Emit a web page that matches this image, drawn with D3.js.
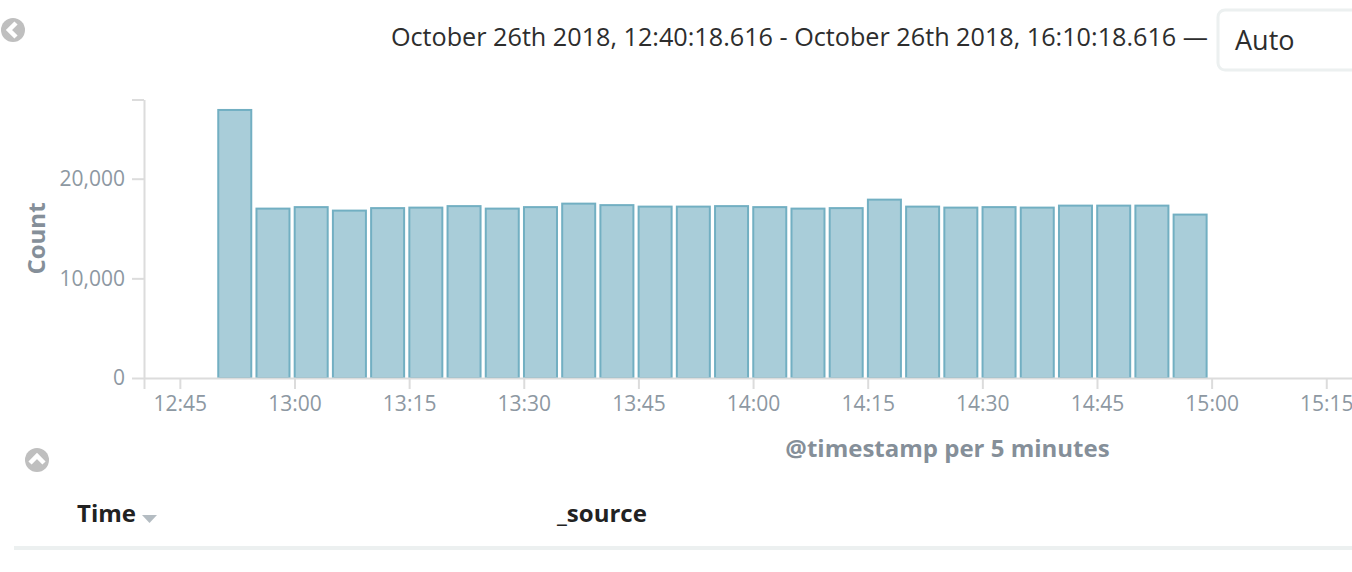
<!DOCTYPE html>
<html><head><meta charset="utf-8">
<script src="https://cdn.jsdelivr.net/npm/d3@7"></script>
<style>
html,body{margin:0;padding:0;background:#fff;overflow:hidden}
svg{display:block;font-family:"Open Sans",sans-serif}
</style></head><body>
<svg id="c" width="1352" height="572"></svg>
<script>
const startTimes = ["12:50","12:55","13:00","13:05","13:10","13:15","13:20","13:25","13:30","13:35","13:40","13:45","13:50","13:55","14:00","14:05","14:10","14:15","14:20","14:25","14:30","14:35","14:40","14:45","14:50","14:55"];
const counts = [26900,17000,17150,16800,17050,17100,17250,17000,17150,17500,17350,17200,17200,17250,17150,17000,17050,17900,17200,17100,17150,17100,17300,17300,17300,16400];
const xTickLabels = ["12:45","13:00","13:15","13:30","13:45","14:00","14:15","14:30","14:45","15:00","15:15"];
const yTicks = [0,10000,20000];
const rangeText = "October 26th 2018, 12:40:18.616 - October 26th 2018, 16:10:18.616 —";
const intervalText = "Auto";
const yTitle = "Count";
const xTitle = "@timestamp per 5 minutes";
const colTime = "Time";
const colSource = "_source";

const parse = t => d3.timeParse("%Y-%m-%d %H:%M:%S.%L")("2018-10-26 " + t);
const hm = t => parse(t + ":00.000");
const svg = d3.select("#c");
const x = d3.scaleTime().domain([parse("12:40:18.616"), parse("16:10:18.616")]).range([144, 1749]);
const yMax = 27950;
const y = d3.scaleLinear().domain([0, yMax]).range([378, 99.5]);

const axisColor = "#dcdcdc", tickText = "#8d98a2", titleText = "#858f99";

const binW = x(hm("12:55")) - x(hm("12:50"));
svg.append("g").selectAll("rect").data(counts).join("rect")
  .attr("x", (d,i) => x(hm(startTimes[i])) + 0.2)
  .attr("y", d => y(d))
  .attr("width", binW - 5.2)
  .attr("height", d => y(0) - y(d))
  .attr("fill", "#a9cdd9")
  .attr("stroke", "#72afc2")
  .attr("stroke-width", 2);

const gy = svg.append("g").attr("transform", "translate(144,0)")
  .call(d3.axisLeft(y).tickValues(yTicks.concat([yMax])).tickSize(12).tickPadding(7).tickSizeOuter(0)
    .tickFormat(d => yTicks.includes(d) ? d3.format(",")(d) : ""));
gy.selectAll("line").attr("stroke", axisColor).attr("stroke-width", 2);
gy.select(".domain").attr("stroke", axisColor).attr("stroke-width", 2);
gy.selectAll("text").attr("fill", tickText).style("font-size", "21px").style("font-family", '"Open Sans"');

const gx = svg.append("g").attr("transform", "translate(0,378)")
  .call(d3.axisBottom(x).tickValues([x.domain()[0]].concat(xTickLabels.map(hm))).tickSize(11).tickPadding(7).tickSizeOuter(0)
    .tickFormat(d => d.getTime() === x.domain()[0].getTime() ? "" : d3.timeFormat("%H:%M")(d)));
gx.selectAll("line").attr("stroke", axisColor).attr("stroke-width", 2);
gx.select(".domain").attr("stroke", axisColor).attr("stroke-width", 2);
gx.selectAll("text").attr("fill", tickText).style("font-size", "21px").style("font-family", '"Open Sans"');

svg.append("text").attr("transform", "translate(45,238.5) rotate(-90)").attr("text-anchor", "middle")
  .attr("fill", titleText).attr("font-size", 24).attr("font-weight", 700).text(yTitle);
svg.append("text").attr("x", 947.5).attr("y", 457).attr("text-anchor", "middle")
  .attr("fill", titleText).attr("font-size", 24).attr("font-weight", 700).text(xTitle);

svg.append("text").attr("x", 1208).attr("y", 46).attr("text-anchor", "end")
  .attr("fill", "#2d2d2d").attr("font-size", 25.2).text(rangeText);
svg.append("rect").attr("x", 1218).attr("y", 10).attr("width", 160).attr("height", 60).attr("rx", 7)
  .attr("fill", "#fff").attr("stroke", "#ecf0f0").attr("stroke-width", 3);
svg.append("text").attr("x", 1235).attr("y", 50).attr("fill", "#2d2d2d").attr("font-size", 27).text(intervalText);

function circleIcon(cx, cy, pts) {
  svg.append("circle").attr("cx", cx).attr("cy", cy).attr("r", 12).attr("fill", "#bfbfbf");
  svg.append("path").attr("d", d3.line()(pts.map(p => [cx + p[0], cy + p[1]])))
    .attr("fill", "none").attr("stroke", "#fff").attr("stroke-width", 4.5);
}
circleIcon(13, 30, [[3,-7],[-4,0],[3,7]]);
circleIcon(37, 460, [[-7,3],[0,-4],[7,3]]);

svg.append("text").attr("x", 77).attr("y", 522).attr("fill", "#222").attr("font-size", 24).attr("font-weight", 700).text(colTime);
svg.append("path").attr("d", d3.line()([[142,515],[157,515],[149.5,523]])+"Z").attr("fill", "#b4bcc2");
svg.append("text").attr("x", 557).attr("y", 522).attr("fill", "#222").attr("font-size", 24).attr("font-weight", 700).text(colSource);
svg.append("rect").attr("x", 14).attr("y", 546).attr("width", 1338).attr("height", 4).attr("fill", "#ecf0f0");
</script>
</body></html>
